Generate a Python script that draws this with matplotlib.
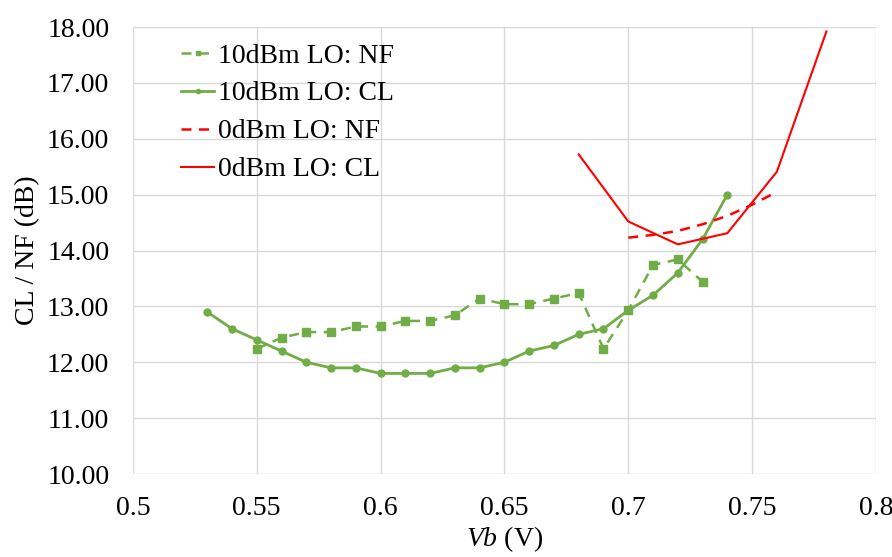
import numpy as np
import matplotlib
matplotlib.use('Agg')
from matplotlib import pyplot as plt

# data
vb_cl10 = [0.53, 0.54, 0.55, 0.56, 0.57, 0.58, 0.59, 0.60, 0.61, 0.62, 0.63,
           0.64, 0.65, 0.66, 0.67, 0.68, 0.69, 0.70, 0.71, 0.72, 0.73, 0.74]
cl10 = [12.9, 12.6, 12.4, 12.2, 12.0, 11.9, 11.9, 11.8, 11.8, 11.8, 11.9,
        11.9, 12.0, 12.2, 12.3, 12.5, 12.6, 12.93, 13.2, 13.6, 14.2, 15.0]

vb_nf10 = [0.55, 0.56, 0.57, 0.58, 0.59, 0.60, 0.61, 0.62, 0.63, 0.64,
           0.65, 0.66, 0.67, 0.68, 0.69, 0.70, 0.71, 0.72, 0.73]
nf10 = [12.24, 12.44, 12.54, 12.54, 12.64, 12.64, 12.74, 12.74, 12.84, 13.14,
        13.04, 13.04, 13.14, 13.24, 12.24, 12.93, 13.74, 13.84, 13.44]

vb_nf0 = [0.70, 0.71, 0.72, 0.73, 0.74, 0.75, 0.76]
nf0 = [14.23, 14.28, 14.35, 14.47, 14.62, 14.82, 15.05]

vb_cl0 = [0.68, 0.70, 0.72, 0.74, 0.76, 0.78]
cl0 = [15.72, 14.52, 14.11, 14.31, 15.41, 17.92]

green = '#70AD47'
red = '#FF0000'

plt.rcParams['font.family'] = ['Liberation Serif', 'DejaVu Serif']
plt.rcParams['font.size'] = 20
plt.rcParams['mathtext.fontset'] = 'custom'
plt.rcParams['mathtext.it'] = 'Liberation Serif:italic'

fig, ax = plt.subplots(figsize=(8.92, 5.57), dpi=100)
fig.subplots_adjust(left=0.149, right=0.982, top=0.9515, bottom=0.149)

ax.plot(vb_nf10, nf10, color=green, ls=(0, (4, 3)), lw=1.8, marker='s', ms=6,
        label='10dBm LO: NF')
ax.plot(vb_cl10, cl10, color=green, ls='-', lw=2, marker='o', ms=5,
        label='10dBm LO: CL')
ax.plot(vb_nf0, nf0, color=red, ls=(0, (4, 3)), lw=1.8, label='0dBm LO: NF')
ax.plot(vb_cl0, cl0, color=red, ls='-', lw=1.5, label='0dBm LO: CL')

ax.set_xlim(0.5, 0.8)
ax.set_ylim(10, 18)
ax.set_xticks(np.arange(0.5, 0.801, 0.05))
ax.set_xticklabels(['0.5', '0.55', '0.6', '0.65', '0.7', '0.75', '0.8'])
ax.set_yticks(np.arange(10, 18.01, 1))
ax.set_yticklabels(['%.2f' % v for v in np.arange(10, 18.01, 1)])
ax.tick_params(axis='y', length=0, pad=17)
ax.tick_params(axis='x', length=0, pad=16)

ax.grid(True, color='#D9D9D9', lw=1)
ax.set_axisbelow(True)
for s in ax.spines.values():
    s.set_visible(False)

ax.set_xlabel(r'$\mathit{Vb}$ (V)', labelpad=2)
ax.set_ylabel('CL / NF (dB)', labelpad=5)

ax.legend(loc='upper left', bbox_to_anchor=(0.031, 1.02), frameon=False,
          handlelength=1.2, handletextpad=0.15, labelspacing=0.45, markerscale=0.6)

plt.savefig('out.png', dpi=100)
